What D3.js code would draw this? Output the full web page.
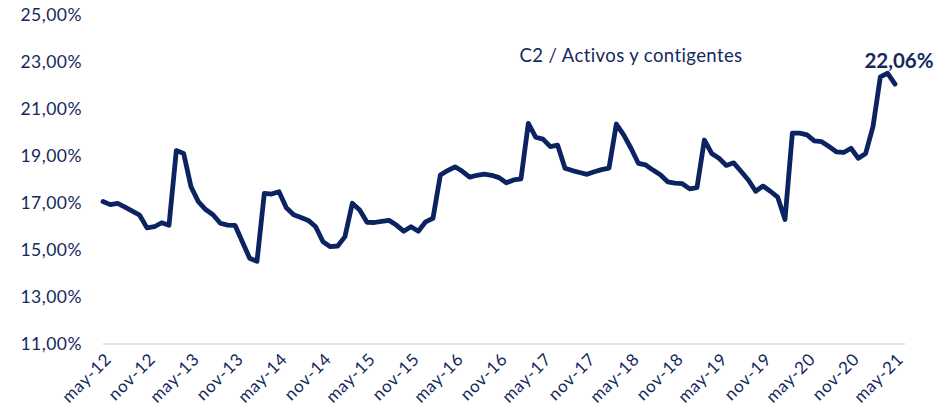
<!DOCTYPE html>
<html>
<head>
<meta charset="utf-8">
<script src="https://cdn.jsdelivr.net/npm/d3@7"></script>
<style>
  body { margin: 0; background: #fff; }
  text { font-family: "Lato", "Open Sans", sans-serif; fill: #14295e; }
</style>
</head>
<body>
<svg width="945" height="407"></svg>
<script>
// monthly ratio, may-12 .. may-21
var values = [
  17.06, 16.93, 16.98, 16.82, 16.65, 16.48, 15.94, 15.99, 16.16, 16.05,
  19.23, 19.11, 17.69, 17.06, 16.72, 16.50, 16.14, 16.06, 16.05, 15.35,
  14.65, 14.52, 17.41, 17.38, 17.48, 16.80, 16.50, 16.38, 16.26, 15.99,
  15.35, 15.14, 15.17, 15.57, 16.99, 16.70, 16.18, 16.17, 16.22, 16.26,
  16.06, 15.80, 15.99, 15.80, 16.20, 16.35, 18.19, 18.38, 18.54, 18.35,
  18.10, 18.18, 18.23, 18.18, 18.08, 17.86, 17.98, 18.03, 20.39, 19.80,
  19.72, 19.40, 19.46, 18.48, 18.38, 18.30, 18.22, 18.33, 18.42, 18.48,
  20.36, 19.90, 19.33, 18.69, 18.62, 18.40, 18.20, 17.90, 17.85, 17.82,
  17.60, 17.65, 19.68, 19.11, 18.90, 18.60, 18.71, 18.35, 17.98, 17.50,
  17.72, 17.50, 17.25, 16.30, 19.97, 19.97, 19.90, 19.64, 19.61, 19.40,
  19.18, 19.15, 19.33, 18.90, 19.11, 20.25, 22.37, 22.52, 22.06
];
var tickLabels = [
  "may-12", "nov-12", "may-13", "nov-13", "may-14", "nov-14", "may-15",
  "nov-15", "may-16", "nov-16", "may-17", "nov-17", "may-18", "nov-18",
  "may-19", "nov-19", "may-20", "nov-20", "may-21"
];
var yTicks = [11, 13, 15, 17, 19, 21, 23, 25];
var title = "C2 / Activos y contigentes";
var lastLabel = "22,06%";

var svg = d3.select("svg");
var navy = "#0b2360";

var x = d3.scaleLinear()
    .domain([0, values.length - 1])
    .range([103, 895]);

var y = d3.scaleLinear()
    .domain([11, 25])
    .range([344, 15]);

var fmt = function(v) { return d3.format(".2f")(v).replace(".", ",") + "%"; };

// baseline
svg.append("line")
    .attr("x1", x(0))
    .attr("x2", 905)
    .attr("y1", y(11))
    .attr("y2", y(11))
    .attr("stroke", "#d9d9d9")
    .attr("stroke-width", 1.5);

// y axis labels
var yAxis = d3.axisLeft(y)
    .tickValues(yTicks)
    .tickFormat(fmt)
    .tickSize(0)
    .tickPadding(0);

svg.append("g")
    .attr("transform", "translate(82,0)")
    .call(yAxis)
    .call(function(g) { g.select(".domain").remove(); })
    .selectAll("text")
    .style("font-size", "17.5px")
    .style("letter-spacing", "0.5px")
    .attr("fill", "#14295e");

// x axis labels
var xAxis = d3.axisBottom(x)
    .tickValues(d3.range(0, values.length, 6))
    .tickFormat(function(d, i) { return tickLabels[i]; })
    .tickSize(0);

svg.append("g")
    .attr("transform", "translate(0," + y(11) + ")")
    .call(xAxis)
    .call(function(g) { g.select(".domain").remove(); })
    .selectAll("text")
    .style("font-size", "17px")
    .style("letter-spacing", "0.8px")
    .attr("fill", "#14295e")
    .attr("text-anchor", "end")
    .attr("dy", 0)
    .attr("transform", "translate(7,14) rotate(-45)");

// line
var line = d3.line()
    .x(function(d, i) { return x(i); })
    .y(function(d) { return y(d); });

svg.append("path")
    .datum(values)
    .attr("fill", "none")
    .attr("stroke", navy)
    .attr("stroke-width", 4.8)
    .attr("stroke-linejoin", "round")
    .attr("stroke-linecap", "round")
    .attr("d", line);

// title
svg.append("text")
    .attr("x", 631)
    .attr("y", 62)
    .attr("text-anchor", "middle")
    .style("font-size", "18.5px")
    .style("letter-spacing", "0.4px")
    .text(title);

// last value label
svg.append("text")
    .attr("x", 899)
    .attr("y", 68)
    .attr("text-anchor", "middle")
    .style("font-size", "20.5px")
    .style("font-weight", "bold")
    .text(lastLabel);
</script>
</body>
</html>
